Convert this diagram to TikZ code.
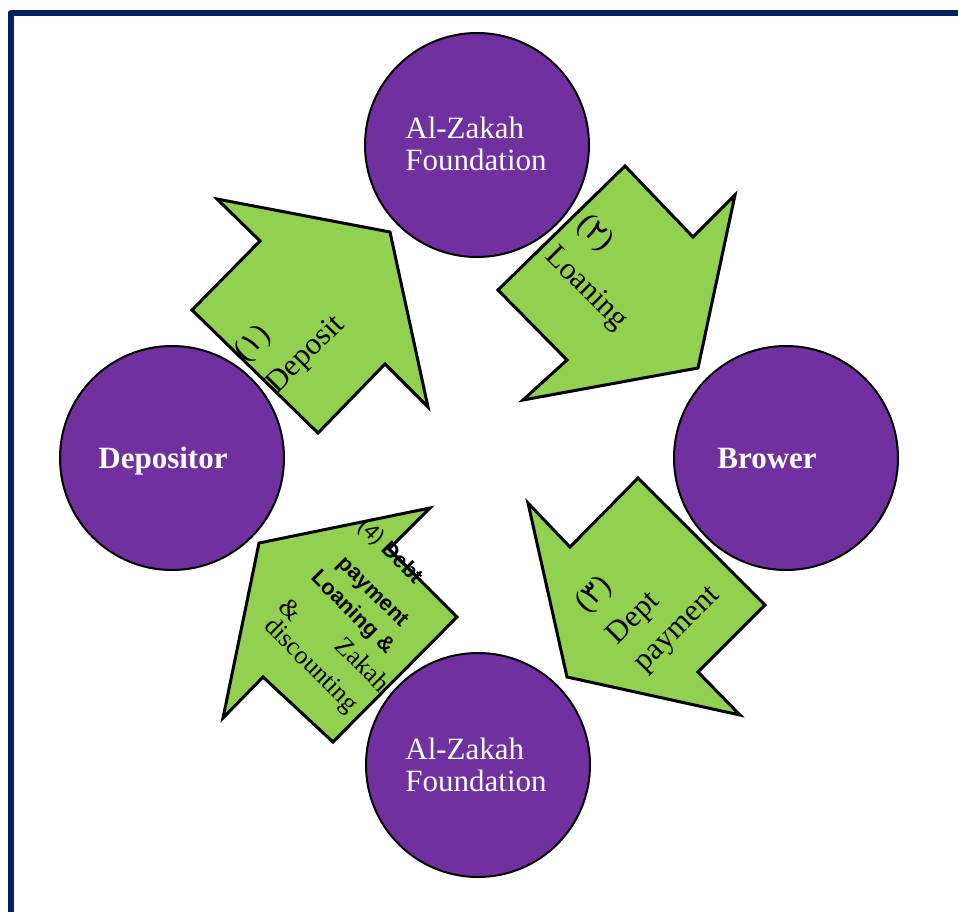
\documentclass[tikz,border=0pt]{standalone}
\usepackage{fontspec}
\setmainfont{Liberation Serif}
\setsansfont{Liberation Sans}
\newfontfamily\arabicfont{DejaVu Sans}
\definecolor{zpurple}{HTML}{7030A0}
\definecolor{zgreen}{HTML}{92D050}
\definecolor{zframe}{HTML}{002060}
\newcommand{\ardig}[1]{{\arabicfont #1}}
\begin{document}
\begin{tikzpicture}[x=1pt,y=-1pt,
  blob/.style={circle, draw=black, line width=2pt, fill=zpurple, minimum size=224pt, inner sep=0pt},
  bigarrow/.style={draw=black, line width=3pt, fill=zgreen, line join=miter},
  ctext/.style={text=white, font=\fontsize{31}{32}\selectfont, align=left, inner sep=0pt},
  cbold/.style={text=white, font=\fontsize{31}{32}\selectfont\bfseries, inner sep=0pt},
  atext/.style={font=\fontsize{31}{45}\selectfont, inner sep=0pt, align=left},
  stext/.style={font=\fontsize{22}{29}\selectfont\sffamily, inner sep=0pt},
  sbold/.style={font=\fontsize{22}{29}\selectfont\sffamily\bfseries, inner sep=0pt, align=center},
  mtext/.style={font=\fontsize{26}{36}\selectfont, inner sep=0pt, align=left}]
\useasboundingbox (0,0) rectangle (958,911);
% frame
\draw[zframe, line width=6pt, line join=round] (970,13) -- (10.5,13) -- (10.5,925);
% arrows
\draw[bigarrow] (192,310) -- (260,241) -- (217,199) -- (390,232) -- (428,407) -- (385,364) -- (318,433) -- cycle;
\draw[bigarrow] (625,166) -- (693,237) -- (735,195) -- (698,368) -- (523,400) -- (567,360) -- (498,290) -- cycle;
\draw[bigarrow] (638,478) -- (570,547) -- (528,503) -- (567,677) -- (740,715) -- (698,672) -- (765,605) -- cycle;
\draw[bigarrow] (457,617) -- (389,549) -- (430,508) -- (259,543) -- (223,718) -- (263,677) -- (333,742) -- cycle;
% circles
\node[blob] (ctop) at (477,145) {};
\node[blob] (cleft) at (172,458) {};
\node[blob] (cright) at (786,458) {};
\node[blob] (cbot) at (478,765) {};
% circle texts
\node[ctext] (ttop) at (476,144) {Al-Zakah\\Foundation};
\node[ctext] (tbot) at (476,765) {Al-Zakah\\Foundation};
\node[cbold] (tdep) at (163,461) {Depositor};
\node[cbold] (tbro) at (767,458) {Brower};
% arrow texts
\node[atext, rotate=45] (a1) at (290,339) {(\ardig{١})\\Deposit};
\node[atext, rotate=-45] (a2) at (602,273) {(\ardig{٢})\\Loaning};
\node[atext, rotate=45, font=\fontsize{31}{38}\selectfont] (a3) at (648,600) {(\ardig{٣})\\[7pt]Dept\\payment};
\node[stext, rotate=-45] (a4a) at (390,552) {(4) \textbf{Debt}};
\node[sbold, rotate=-45] (a4b) at (362,603) {payment\\Loaning \&};
\node[mtext, rotate=-45] (a4d) at (291,610) {\&};
\node[mtext, rotate=-45] (a4e) at (326,656) {\hspace*{64pt}Zakah\\discounting};
\end{tikzpicture}
\end{document}
